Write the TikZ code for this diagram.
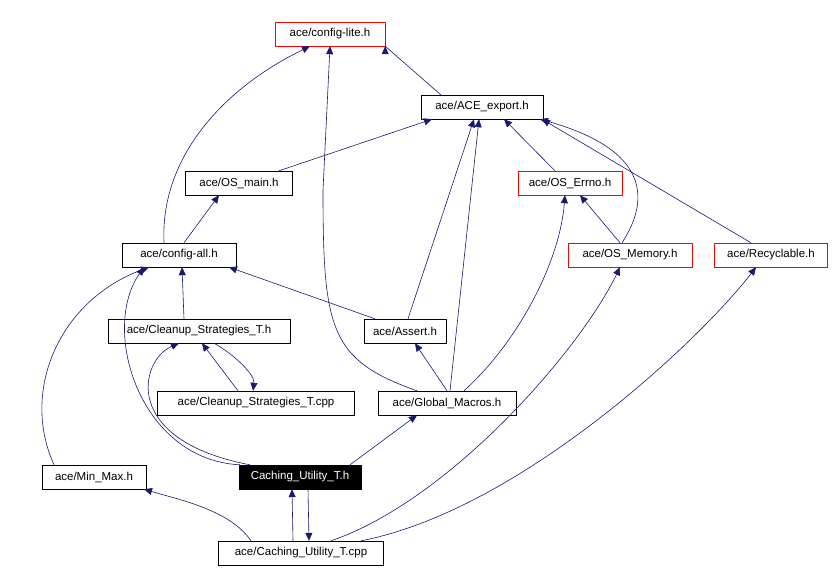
\documentclass[tikz,border=0pt]{standalone}
\usepackage{fontspec}
\setmainfont{Liberation Sans}
\usetikzlibrary{arrows.meta}
\definecolor{edge}{RGB}{25,25,112}
\begin{document}
\begin{tikzpicture}[x=1pt,y=-1pt,
  n/.style={draw=black,fill=white,inner sep=0pt,minimum height=24pt,font=\fontsize{11.5}{13}\selectfont},
  r/.style={n,draw=red},
  e/.style={draw=edge,line width=0.6pt,-{Triangle[length=8pt,width=7pt]}}]
\useasboundingbox (0,0) rectangle (835,584);
\node[r,minimum width=110pt] (lite) at (330,34) {ace/config-lite.h};
\node[n,minimum width=122pt] (exp) at (482,107) {ace/ACE\_export.h};
\node[n,minimum width=107pt] (main) at (239,183) {ace/OS\_main.h};
\node[r,minimum width=104pt] (errno) at (570,183) {ace/OS\_Errno.h};
\node[n,minimum width=114pt] (all) at (179,255) {ace/config-all.h};
\node[r,minimum width=124pt] (mem) at (630,255) {ace/OS\_Memory.h};
\node[r,minimum width=113pt] (rec) at (771,255) {ace/Recyclable.h};
\node[n,minimum width=182pt] (csh) at (199,331) {ace/Cleanup\_Strategies\_T.h};
\node[n,minimum width=82pt] (as) at (405,331) {ace/Assert.h};
\node[n,minimum width=197pt] (csc) at (256,403) {ace/Cleanup\_Strategies\_T.cpp};
\node[n,minimum width=138pt] (gm) at (447,403) {ace/Global\_Macros.h};
\node[n,minimum width=104pt] (mm) at (94,477) {ace/Min\_Max.h};
\node[n,fill=black,text=white,minimum width=122pt] (cuh) at (300,477) {Caching\_Utility\_T.h};
\node[n,minimum width=165pt] (cuc) at (301,553) {ace/Caching\_Utility\_T.cpp};

\draw[e] (exp.north west) ++(20,0) -- (lite.south east) ++(0,0);
\draw[e] ([xshift=-15pt]all.north) .. controls (160,160) and (220,90) .. ([xshift=-20pt]lite.south);
\draw[e] ([xshift=40pt]main.north) -- ([xshift=-50pt]exp.south);
\draw[e] ([xshift=-15pt]all.north) ++(20,0) -- ([xshift=-20pt]main.south);
\draw[e] ([xshift=-15pt]errno.north) -- ([xshift=22pt]exp.south);
\draw[e] ([xshift=-8pt]mem.north) .. controls (650,200) and (650,150) .. ([xshift=58pt]exp.south);
\draw[e] (mem.north) ++(-10,0) -- ([xshift=10pt]errno.south);
\draw[e] (rec.north) ++(-20,0) -- ([xshift=60pt]exp.south);
\draw[e] ([xshift=-15pt]csh.north) -- ([xshift=3pt]all.south);
\draw[e] ([xshift=-30pt]as.north) -- ([xshift=50pt]all.south);
\draw[e] ([xshift=3pt]as.north) -- ([xshift=-8pt]exp.south);
\draw[e] ([xshift=-18pt]csc.north) -- ([xshift=3pt]csh.south);
\draw[e] ([xshift=15pt]csh.south) .. controls (235,355) and (255,375) .. ([xshift=-3pt]csc.north);
\draw[e] ([xshift=-30pt]gm.north) .. controls (330,360) and (323,330) .. (323,190) -- (lite.south);
\draw[e] ([xshift=3pt]gm.north) -- ([xshift=-3pt]exp.south);
\draw[e] ([xshift=17pt]gm.north) .. controls (520,340) and (560,260) .. ([xshift=-5pt]errno.south);
\draw[e] (gm.north) -- ([xshift=10pt]as.south);
\draw[e] ([xshift=-40pt]mm.north) .. controls (20,390) and (60,300) .. ([xshift=-30pt]all.south);
\draw[e] ([xshift=-60pt]cuh.north) .. controls (140,460) and (100,330) .. ([xshift=-35pt]all.south);
\draw[e] ([xshift=-50pt]cuh.north) .. controls (120,440) and (140,360) .. ([xshift=-20pt]csh.south);
\draw[e] ([xshift=50pt]cuh.north) -- ([xshift=-30pt]gm.south);
\draw[e] ([xshift=-8pt]cuc.north) -- ([xshift=-8pt]cuh.south);
\draw[e] ([xshift=8pt]cuh.south) -- ([xshift=8pt]cuc.north);
\draw[e] ([xshift=-50pt]cuc.north) .. controls (230,510) and (180,500) .. ([xshift=50pt]mm.south);
\draw[e] ([xshift=30pt]cuc.north) .. controls (450,500) and (580,350) .. ([xshift=-10pt]mem.south);
\draw[e] ([xshift=60pt]cuc.north) .. controls (520,510) and (700,340) .. ([xshift=-15pt]rec.south);
\end{tikzpicture}
\end{document}
